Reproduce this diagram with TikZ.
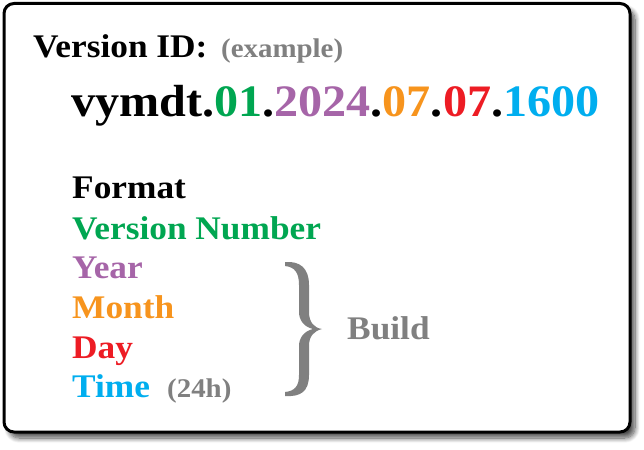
\documentclass[tikz,border=0pt]{standalone}
\usepackage{fontspec}
\setmainfont{Liberation Serif}[FakeStretch=1.07]
\usetikzlibrary{shadows.blur}

\definecolor{vgreen}{RGB}{0,166,81}
\definecolor{vpurple}{RGB}{166,101,168}
\definecolor{vorange}{RGB}{247,148,29}
\definecolor{vred}{RGB}{237,28,36}
\definecolor{vcyan}{RGB}{0,174,239}
\definecolor{vgray}{RGB}{128,128,128}

\tikzset{
  label/.style={anchor=base west, inner sep=0pt, font=\fontsize{33}{38}\selectfont\bfseries},
  note/.style={anchor=base west, inner sep=0pt, text=vgray, font=\fontsize{27}{30}\selectfont\bfseries},
  bigid/.style={anchor=base west, inner sep=0pt, font=\fontsize{45}{52}\selectfont\bfseries},
  card/.style={draw=black, line width=3pt, fill=white, rounded corners=10pt,
    blur shadow={shadow xshift=5pt, shadow yshift=-6pt, shadow blur radius=5pt,
      shadow blur steps=10, shadow opacity=70}},
}

\begin{document}
\begin{tikzpicture}[x=1pt, y=-1pt]
  \useasboundingbox (0,0) rectangle (644,449);

  % card with drop shadow
  \path[card] (4,3.5) rectangle (630,432);

  % heading
  \node[label] (hdr) at (33,58) {Version ID:};
  \node[note] (ex) at (221,58) {(example)};

  % example identifier
  \node[bigid] (id) at (71,117) {vymdt.\textcolor{vgreen}{01}.\textcolor{vpurple}{2024}.\textcolor{vorange}{07}.\textcolor{vred}{07}.\textcolor{vcyan}{1600}};

  % field legend
  \node[label] (fmt) at (72,198) {Format};
  \node[label, text=vgreen] (ver) at (72,239) {Version Number};
  \node[label, text=vpurple] (yr) at (72,278) {Year};
  \node[label, text=vorange] (mo) at (72,318) {Month};
  \node[label, text=vred] (dy) at (72,358) {Day};
  \node[label, text=vcyan] (tm) at (72,397) {Time};
  \node[note] (h24) at (167,397) {(24h)};

  % brace grouping the build fields
  \fill[vgray] (285,262) .. controls (300,261) and (309,268) .. (309,285)
    -- (309,312) .. controls (309,322) and (314,328) .. (322,329)
    .. controls (314,331) and (309,336) .. (309,346)
    -- (309,375) .. controls (309,392) and (300,397) .. (285,396)
    -- (285,392) .. controls (295,391) and (299,386) .. (299,375)
    -- (299,346) .. controls (299,338) and (304,331) .. (313,329)
    .. controls (304,327) and (299,320) .. (299,312)
    -- (299,285) .. controls (299,273) and (295,267) .. (285,266) -- cycle;

  \node[label, text=vgray] (bld) at (347,339) {Build};
\end{tikzpicture}
\end{document}
